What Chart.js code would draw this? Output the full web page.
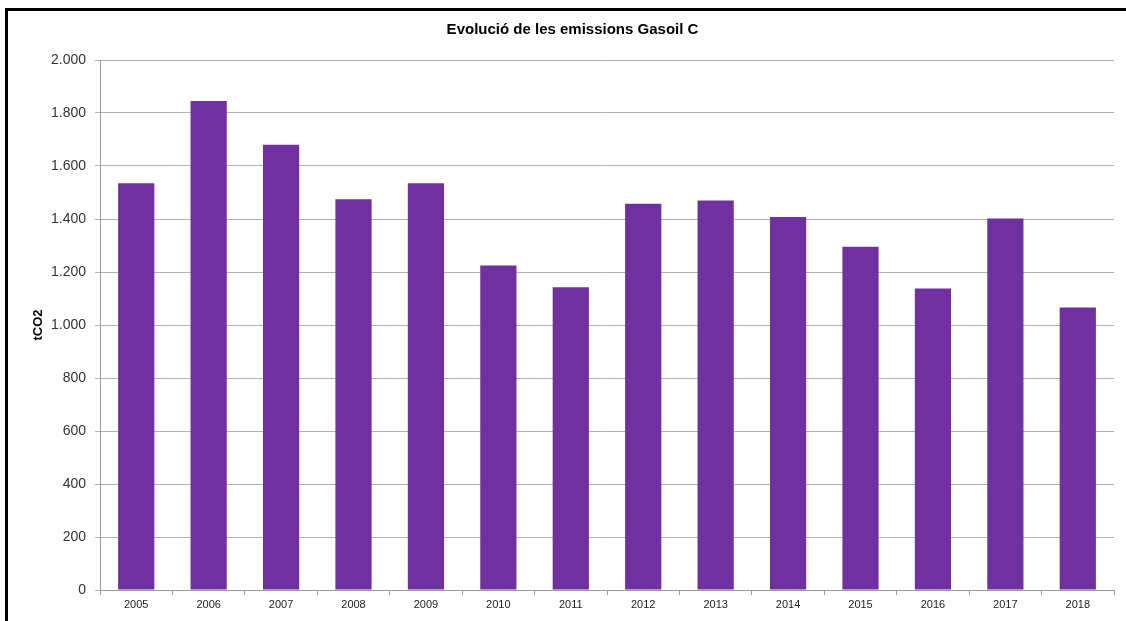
<!DOCTYPE html>
<html>
<head>
<meta charset="utf-8">
<script src="https://cdn.jsdelivr.net/npm/chart.js@4/dist/chart.umd.min.js"></script>
<style>
  html, body { margin: 0; padding: 0; background: #fff; overflow: hidden; }
  #frame {
    position: absolute; left: 5px; top: 8px; width: 1200px; height: 700px;
    border-top: 3px solid #000; border-left: 3px solid #000;
  }
  #wrap { position: absolute; left: 6px; top: 0; width: 1126px; height: 621px; }
</style>
</head>
<body>
<div id="frame"></div>
<div id="wrap"><canvas id="chart"></canvas></div>
<script>
// DATA

const years = ["2005", "2006", "2007", "2008", "2009", "2010", "2011",
               "2012", "2013", "2014", "2015", "2016", "2017", "2018"];
const emissions = [1535, 1845, 1680, 1475, 1535, 1225, 1142,
                   1458, 1470, 1408, 1295, 1138, 1402, 1066];
const yTicks = [0, 200, 400, 600, 800, 1000, 1200, 1400, 1600, 1800, 2000];

// HELPERS

function fmt(v) {
  return String(v).replace(/\B(?=(\d{3})+(?!\d))/g, ".");
}

// CHART

const ctx = document.getElementById("chart").getContext("2d");

new Chart(ctx, {
  type: "bar",
  data: {
    labels: years,
    datasets: [{
      label: "tCO2",
      data: emissions,
      backgroundColor: "#7030a0",
      borderWidth: 0,
      categoryPercentage: 1,
      barPercentage: 0.5
    }]
  },
  options: {
    responsive: true,
    maintainAspectRatio: false,
    animation: false,
    layout: { padding: { top: 21, right: 18, left: 25, bottom: 0 } },
    plugins: {
      legend: { display: false },
      tooltip: { enabled: false },
      title: {
        display: true,
        text: "Evolució de les emissions Gasoil C",
        color: "#000",
        font: { family: "Liberation Sans, Arial", size: 15, weight: "bold", lineHeight: 1.2 },
        padding: { top: 0, bottom: 21 }
      }
    },
    scales: {
      x: {
        grid: {
          display: true,
          drawOnChartArea: false,
          drawTicks: true,
          tickLength: 5,
          color: "#9a9a9a",
          offset: true
        },
        border: { display: true, color: "#9a9a9a", width: 1 },
        ticks: {
          color: "#222",
          font: { family: "Liberation Sans, Arial", size: 11 },
          padding: 3,
          maxRotation: 0
        },
        afterFit: (s) => { s.height = 31; }
      },
      y: {
        min: 0,
        max: 2000,
        afterBuildTicks: (s) => { s.ticks = yTicks.map(v => ({ value: v })); },
        grid: {
          color: "#b0b0b0",
          tickLength: 5,
          drawTicks: true
        },
        border: { display: true, color: "#9a9a9a", width: 1 },
        ticks: {
          color: "#333",
          font: { family: "Liberation Sans, Arial", size: 14 },
          padding: 9,
          callback: (v) => fmt(v)
        },
        title: {
          display: true,
          text: "tCO2",
          color: "#000",
          font: { family: "Liberation Sans, Arial", size: 13, weight: "bold" },
          padding: 0
        },
        afterFit: (s) => { s.width = 69; }
      }
    }
  }
});
</script>
</body>
</html>
